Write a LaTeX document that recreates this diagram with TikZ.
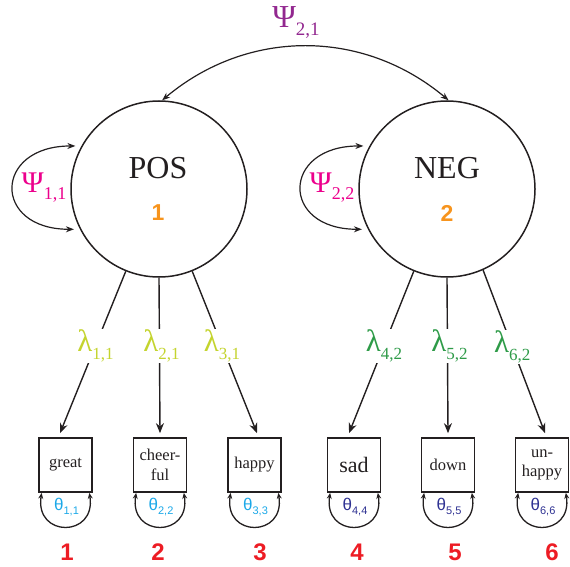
\documentclass[tikz,border=0pt]{standalone}
\usepackage{fontspec}
\setmainfont{Liberation Serif}
\newfontfamily\sansf{Liberation Sans}
\usetikzlibrary{arrows.meta,calc}
\definecolor{lineclr}{HTML}{231F20}
\definecolor{psimag}{HTML}{EC008C}
\definecolor{psipur}{HTML}{92278F}
\definecolor{lamyel}{HTML}{C4D42E}
\definecolor{lamgrn}{HTML}{2E9B48}
\definecolor{thcyan}{HTML}{1BA8E8}
\definecolor{thblue}{HTML}{2E3192}
\definecolor{numorange}{HTML}{F7941D}
\definecolor{numred}{HTML}{ED1C24}
\newcommand\fs[1]{\fontsize{#1}{#1}\selectfont}
\newcommand\Lab[5]{{\fs{#1}#3}\raisebox{#5}{\fs{#2}#4}}
\begin{document}
\begin{tikzpicture}[x=1pt,y=1pt,
  latent/.style={circle,draw=lineclr,line width=1.5pt,minimum size=176pt,inner sep=0pt},
  obs/.style={rectangle,draw=lineclr,line width=1.7pt,minimum width=53pt,minimum height=54pt,inner sep=0pt,align=center,text=lineclr},
  arr/.style={draw=lineclr,line width=1.4pt,-{Stealth[length=10pt,width=8pt]}},
  darr/.style={draw=lineclr,line width=1.2pt,{Stealth[length=8pt,width=6pt]}-{Stealth[length=8pt,width=6pt]}},
  tarr/.style={draw=lineclr,line width=1.3pt,{Stealth[length=6pt,width=5pt]}-{Stealth[length=6pt,width=5pt]}},
  lam/.style={fill=white,inner sep=1pt},
  lamA/.style={lam,text=lamyel},
  lamB/.style={lam,text=lamgrn},
  facname/.style={font=\fs{32},text=lineclr},
  facnum/.style={font=\sansf\bfseries\fs{23},text=numorange},
  itemnum/.style={font=\sansf\bfseries\fs{24},text=numred},
  thA/.style={font=\sansf,text=thcyan},
  thB/.style={font=\sansf,text=thblue}
]
\useasboundingbox (0,0) rectangle (570,-567);

% latent factors
\node[latent] (pos) at (159,-189) {};
\node[latent] (neg) at (447,-189) {};
\node[facname] (posl) at (158,-168) {POS};
\node[facname] (negl) at (447,-168) {NEG};
\node[facnum] (n1) at (158,-213) {1};
\node[facnum] (n2) at (447,-213) {2};

% observed items
\node[obs,font=\fs{16.5}] (b1) at (65.5,-465) {great};
\node[obs,font=\fontsize{16.5}{19.5}\selectfont] (b2) at (160,-465) {cheer-\\ful};
\node[obs,font=\fs{16.5}] (b3) at (254.5,-465) {happy};
\node[obs,font=\fs{22}] (b4) at (354,-465) {sad};
\node[obs,font=\fs{16.5}] (b5) at (448,-465) {down};
\node[obs,font=\fontsize{16.5}{19.5}\selectfont] (b6) at (542,-465) {un-\\happy};

% covariance between factors
\draw[darr] (pos.88) to[out=40,in=140] (neg.89);
\node[text=psipur] (psi21) at (296,-22) {\Lab{32}{19}{Ψ}{2,1}{-8pt}};

% factor variances
\draw[darr,shorten <=6pt,shorten >=6pt] (pos.151) .. controls +(-88,0) and +(-88,0) .. (pos.207);
\draw[darr,shorten <=6pt,shorten >=6pt] (neg.151) .. controls +(-88,0) and +(-88,0) .. (neg.207);
\node[text=psimag] (psi11) at (44,-188) {\Lab{30}{18}{Ψ}{1,1}{-7pt}};
\node[text=psimag] (psi22) at (332,-188) {\Lab{30}{18}{Ψ}{2,2}{-7pt}};

% loadings
\draw[arr] (pos.248) -- node[lamA,pos=0.46] {\Lab{31}{17}{λ}{1,1}{-8pt}} ([xshift=-5.5pt,yshift=4pt]b1.north);
\draw[arr] (pos.270) -- node[lamA,pos=0.44,xshift=2pt] {\Lab{31}{17}{λ}{2,1}{-8pt}} ([yshift=4pt]b2.north);
\draw[arr] (pos.292) -- node[lamA,pos=0.46] {\Lab{31}{17}{λ}{3,1}{-8pt}} ([xshift=2.5pt,yshift=4pt]b3.north);
\draw[arr] (neg.248) -- node[lamB,pos=0.46] {\Lab{31}{17}{λ}{4,2}{-8pt}} ([xshift=-5pt,yshift=4pt]b4.north);
\draw[arr] (neg.270) -- node[lamB,pos=0.44,xshift=2pt] {\Lab{31}{17}{λ}{5,2}{-8pt}} ([yshift=4pt]b5.north);
\draw[arr] (neg.294) -- node[lamB,pos=0.47] {\Lab{31}{17}{λ}{6,2}{-8pt}} ([xshift=3pt,yshift=4pt]b6.north);

% residual variances
\foreach \b in {b1,b2,b3,b4,b5,b6}{
  \draw[tarr] ([xshift=3.5pt]\b.south west) .. controls +(-7,-45) and +(7,-45) .. ([xshift=-3.5pt]\b.south east);
}
\node[thA] (t1) at (66.5,-507) {\Lab{17}{11}{θ}{1,1}{-4pt}};
\node[thA] (t2) at (161,-507) {\Lab{17}{11}{θ}{2,2}{-4pt}};
\node[thA] (t3) at (255.5,-507) {\Lab{17}{11}{θ}{3,3}{-4pt}};
\node[thB] (t4) at (355,-507) {\Lab{17}{11}{θ}{4,4}{-4pt}};
\node[thB] (t5) at (449,-507) {\Lab{17}{11}{θ}{5,5}{-4pt}};
\node[thB] (t6) at (543,-507) {\Lab{17}{11}{θ}{6,6}{-4pt}};

% item numbers
\node[itemnum] (i1) at (67,-552) {1};
\node[itemnum] (i2) at (158,-552) {2};
\node[itemnum] (i3) at (260,-552) {3};
\node[itemnum] (i4) at (357,-552) {4};
\node[itemnum] (i5) at (455,-552) {5};
\node[itemnum] (i6) at (552,-552) {6};
\end{tikzpicture}
\end{document}
